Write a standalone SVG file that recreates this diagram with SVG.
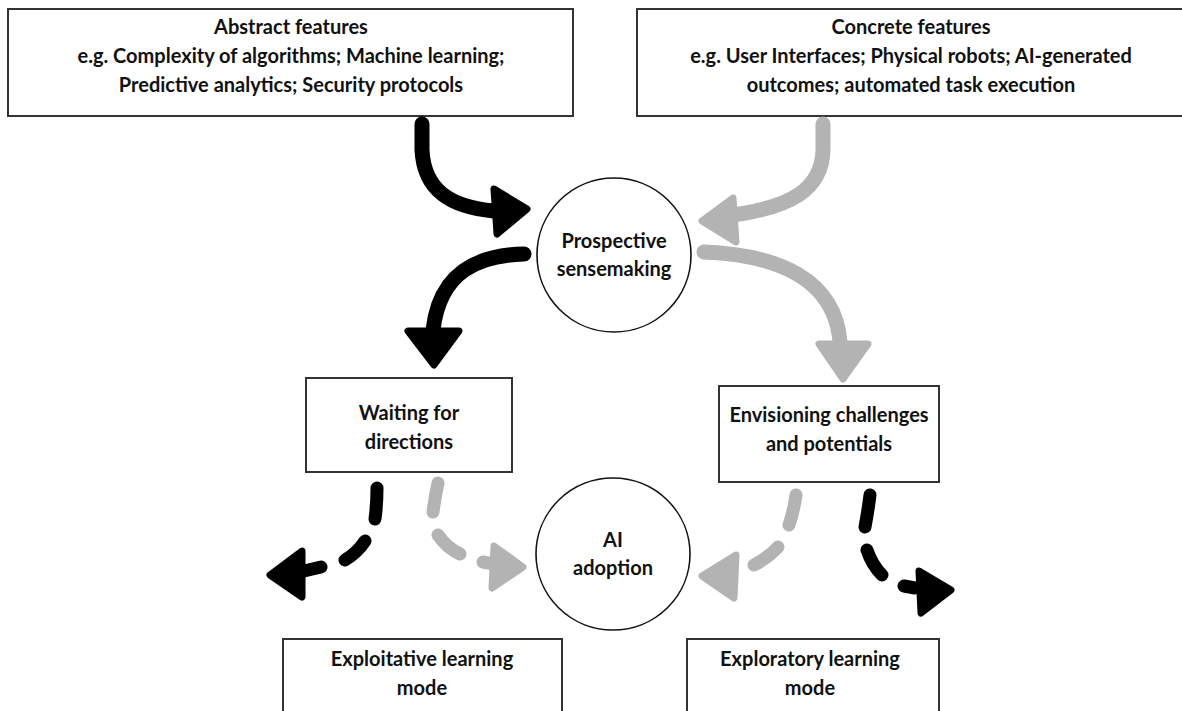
<svg xmlns="http://www.w3.org/2000/svg" width="1182" height="711" viewBox="0 0 1182 711">
  <style>
    .box { fill: #ffffff; stroke: #333333; stroke-width: 2; }
    .circ { fill: #ffffff; stroke: #111111; stroke-width: 1.6; }
    .lbl { font-family: Lato, "Liberation Sans", sans-serif; font-weight: bold; font-size: 20px; fill: #111111; text-anchor: middle; }
    .k-line { fill: none; stroke: #000000; stroke-width: 15; stroke-linecap: round; }
    .g-line { fill: none; stroke: #b3b3b3; stroke-width: 15; stroke-linecap: round; }
    .k-dash { fill: none; stroke: #000000; stroke-width: 13; stroke-linecap: round; }
    .g-dash { fill: none; stroke: #b3b3b3; stroke-width: 13; stroke-linecap: round; }
    .k-head { fill: #000000; stroke: #000000; stroke-width: 7; stroke-linejoin: round; }
    .g-head { fill: #b3b3b3; stroke: #b3b3b3; stroke-width: 7; stroke-linejoin: round; }
  </style>
  <rect width="1182" height="711" fill="#ffffff"/>

  <g id="abstract-features">
    <rect class="box" x="8" y="9" width="565" height="107"/>
    <text class="lbl" x="291" y="34">Abstract features</text>
    <text class="lbl" x="291" y="63">e.g. Complexity of algorithms; Machine learning;</text>
    <text class="lbl" x="291" y="92">Predictive analytics; Security protocols</text>
  </g>

  <g id="concrete-features">
    <rect class="box" x="637" y="9" width="560" height="107"/>
    <text class="lbl" x="911" y="34">Concrete features</text>
    <text class="lbl" x="911" y="63">e.g. User Interfaces; Physical robots; AI-generated</text>
    <text class="lbl" x="911" y="92">outcomes; automated task execution</text>
  </g>

  <g id="prospective-sensemaking">
    <circle class="circ" cx="614" cy="255" r="77"/>
    <text class="lbl" x="614" y="248">Prospective</text>
    <text class="lbl" x="614" y="276">sensemaking</text>
  </g>

  <g id="waiting-for-directions">
    <rect class="box" x="306" y="378" width="206" height="94"/>
    <text class="lbl" x="409" y="420">Waiting for</text>
    <text class="lbl" x="409" y="449">directions</text>
  </g>

  <g id="envisioning">
    <rect class="box" x="719" y="386" width="220" height="96"/>
    <text class="lbl" x="829" y="422">Envisioning challenges</text>
    <text class="lbl" x="829" y="451">and potentials</text>
  </g>

  <g id="ai-adoption">
    <ellipse class="circ" cx="613" cy="554" rx="77" ry="76"/>
    <text class="lbl" x="613" y="547">AI</text>
    <text class="lbl" x="613" y="575">adoption</text>
  </g>

  <g id="exploitative-learning">
    <rect class="box" x="283" y="639" width="279" height="90"/>
    <text class="lbl" x="422" y="666">Exploitative learning</text>
    <text class="lbl" x="422" y="695">mode</text>
  </g>

  <g id="exploratory-learning">
    <rect class="box" x="687" y="639" width="252" height="90"/>
    <text class="lbl" x="810" y="666">Exploratory learning</text>
    <text class="lbl" x="810" y="695">mode</text>
  </g>

  <g id="connectors">
    <!-- abstract features -> prospective sensemaking -->
    <path class="k-line" d="M422,124 L422,150 C424,190 450,207 494,211"/>
    <polygon class="k-head" points="494,189 527,209 497,234"/>

    <!-- concrete features -> prospective sensemaking -->
    <path class="g-line" d="M823,124 L823,150 C822,190 790,207 733,215"/>
    <polygon class="g-head" points="733,198 702,221 736,242"/>

    <!-- prospective sensemaking -> waiting for directions -->
    <path class="k-line" d="M524,254 C480,255 440,270 433,330"/>
    <polygon class="k-head" points="408,331 459,331 434,365"/>

    <!-- prospective sensemaking -> envisioning -->
    <path class="g-line" d="M704,252 C780,255 835,280 840,342"/>
    <polygon class="g-head" points="819,344 868,344 843,379"/>

    <!-- waiting for directions -> exploitative learning (dashed) -->
    <path class="k-dash" d="M377,488 Q377,504 375,519 M365,541 Q357,553 345,560 M321,567 L304,571"/>
    <polygon class="k-head" points="302,551 270,575 302,597"/>

    <!-- waiting for directions -> AI adoption (dashed) -->
    <path class="g-dash" d="M438,483 Q435,497 433,512 M438,535 Q447,548 460,554 M483,562 L494,564"/>
    <polygon class="g-head" points="494,546 523,567 492,588"/>

    <!-- envisioning -> AI adoption (dashed) -->
    <path class="g-dash" d="M796,495 Q794,510 789,525 M778,547 Q768,558 754,565"/>
    <polygon class="g-head" points="736,555 702,576 734,598"/>

    <!-- envisioning -> exploratory learning (dashed) -->
    <path class="k-dash" d="M870,495 Q868,511 865,527 M867,550 Q872,565 882,575 M904,586 L915,588"/>
    <polygon class="k-head" points="919,571 951,590 921,613"/>
  </g>
</svg>
